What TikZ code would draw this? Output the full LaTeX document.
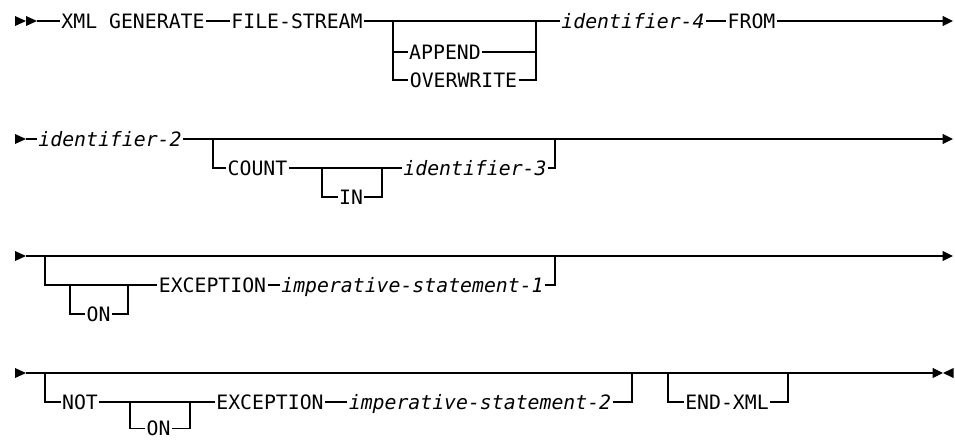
\documentclass[tikz,border=0pt]{standalone}
\usepackage{fontspec}
\setmonofont{DejaVu Sans Mono}
\usepackage{tikz}
\usetikzlibrary{arrows.meta}

\begin{document}
\begin{tikzpicture}[
			x=1pt, y=-1pt,
			line width=1.1pt,
			every node/.style={
					font=\ttfamily\fontsize{19.8}{22}\selectfont,
					inner xsep=1pt,
					inner ysep=0pt,
					text height=14pt, % Cap height, line runs through the middle
					text depth=0pt
				},
			var/.style={font=\ttfamily\itshape\fontsize{19.8}{22}\selectfont},
			endarrow/.style={-{Triangle[length=10.5pt, width=10pt]}}
		]
		\useasboundingbox (0,0) rectangle (955,439);

		% row 1
		\coordinate (s1) at (15,21);
		\coordinate (m1) at (37,21);
		\node (xml) at (133,21) {XML GENERATE};
		\node (fs) at (297,21) {FILE-STREAM};
		\coordinate (b1) at (393,21);
		\node (append) at (445,52) {APPEND};
		\node (overwrite) at (463.5,80) {OVERWRITE};
		\coordinate (e1) at (536,21);
		\node[var] (id4) at (633,21) {identifier-4};
		\node (from) at (751.5,21) {FROM};
		\coordinate (t1) at (953,21);

		\fill (s1) -- ++(0,-5) -- ++(11,5) -- ++(-11,5) -- cycle;
		\fill ([xshift=11pt]s1) -- ++(0,-5) -- ++(11,5) -- ++(-11,5) -- cycle;
		\draw (m1) -- (xml);
		\draw (xml) -- (fs);
		\draw (fs) -- (b1) -- (e1) -- (id4);
		\draw (b1) |- (append.west);
		\draw (append.east) -| (e1);
		\draw (b1) |- (overwrite.west);
		\draw (overwrite.east) -| (e1);
		\draw (id4) -- (from);
		\draw[endarrow] (from) -- (t1);

		% row 2
		\coordinate (s2) at (15,139);
		\coordinate (m2) at (26,139);
		\node[var] (id2) at (110,139) {identifier-2};
		\coordinate (b2) at (213,139);
		\node (count) at (257.5,168) {COUNT};
		\coordinate (b3) at (322,168);
		\node (in) at (351,197) {IN};
		\coordinate (e3) at (382,168);
		\node[var] (id3) at (475,168) {identifier-3};
		\coordinate (e2) at (555,139);
		\coordinate (t2) at (953,139);

		\fill (s2) -- ++(0,-5) -- ++(11,5) -- ++(-11,5) -- cycle;
		\draw (m2) -- (id2);
		\draw[endarrow] (id2) -- (b2) -- (e2) -- (t2);
		\draw (b2) |- (count.west);
		\draw (count) -- (b3) -- (e3) -- (id3);
		\draw (b3) |- (in.west);
		\draw (in.east) -| (e3);
		\draw (id3.east) -| (e2);

		% row 3
		\coordinate (s3) at (15,256);
		\coordinate (m3) at (26,256);
		\coordinate (b4) at (45,256);
		\coordinate (b5) at (70,285);
		\node (on1) at (98.5,314) {ON};
		\coordinate (e5) at (128,285);
		\node (exc1) at (212.5,285) {EXCEPTION};
		\node[var] (imp1) at (412.5,285) {imperative-statement-1};
		\coordinate (e4) at (555,256);
		\coordinate (t3) at (953,256);

		\fill (s3) -- ++(0,-5) -- ++(11,5) -- ++(-11,5) -- cycle;
		\draw[endarrow] (m3) -- (b4) -- (e4) -- (t3);
		\draw (b4) |- (b5) -- (e5) -- (exc1);
		\draw (b5) |- (on1.west);
		\draw (on1.east) -| (e5);
		\draw (exc1) -- (imp1);
		\draw (imp1.east) -| (e4);

		% row 4
		\coordinate (s4) at (15,373);
		\coordinate (m4) at (26,373);
		\coordinate (b6) at (45,373);
		\node (not) at (80,402) {NOT};
		\coordinate (b7) at (130,402);
		\node (on2) at (158.5,428.5) {ON};
		\coordinate (e7) at (190,402);
		\node (exc2) at (270,402) {EXCEPTION};
		\node[var] (imp2) at (480,402) {imperative-statement-2};
		\coordinate (e6) at (632,373);
		\coordinate (b8) at (668,373);
		\node (endxml) at (727,402) {END-XML};
		\coordinate (e8) at (788,373);
		\coordinate (t4) at (943,373);

		\fill (s4) -- ++(0,-5) -- ++(11,5) -- ++(-11,5) -- cycle;
		\draw[endarrow] (m4) -- (b6) -- (e6) -- (b8) -- (e8) -- (t4);
		\fill (t4) -- ++(10.5,-5) -- ++(0,10) -- cycle;
		\draw (b6) |- (not.west);
		\draw (not) -- (b7) -- (e7) -- (exc2);
		\draw (b7) |- (on2.west);
		\draw (on2.east) -| (e7);
		\draw (exc2) -- (imp2);
		\draw (imp2.east) -| (e6);
		\draw (b8) |- (endxml.west);
		\draw (endxml.east) -| (e8);
	\end{tikzpicture}
\end{document}
